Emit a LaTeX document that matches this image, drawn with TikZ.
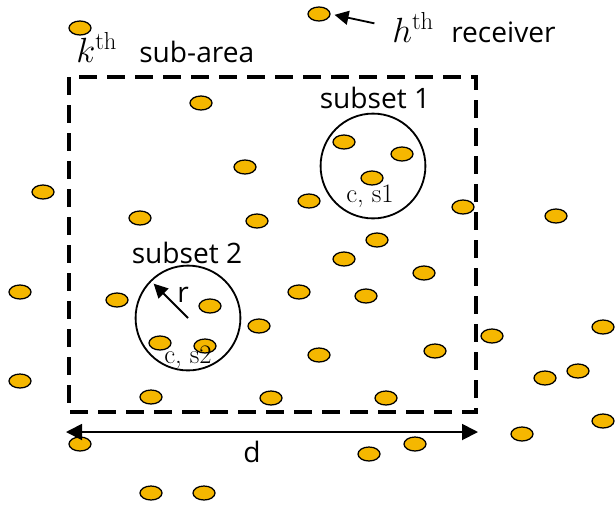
\documentclass[tikz,border=0pt]{standalone}
\usepackage{fontspec}
\setsansfont{Open Sans}
\usepackage{tikz}
\usetikzlibrary{arrows.meta, shapes.geometric}
\definecolor{dotfill}{RGB}{245,183,0}

\begin{document}
\begin{tikzpicture}[x=0.025cm, y=-0.025cm,
  rcv/.style={ellipse, draw, line width=0.9pt, fill=dotfill, minimum width=0.55cm, minimum height=0.35cm, inner sep=0pt},
  lbl/.style={font=\sffamily\fontsize{20}{24}\selectfont, inner sep=0pt},
  mth/.style={font=\fontsize{25}{29}\selectfont, inner sep=0pt},
  cs/.style={font=\fontsize{19}{22}\selectfont, inner sep=0pt},
  subset/.style={circle, draw, line width=1.3pt, minimum size=2.62cm, inner sep=0pt}]
\useasboundingbox (0,0) rectangle (616,508);
\draw[line width=2.8pt, dash pattern=on 0.45cm off 0.25cm] (69,77) rectangle (476,412);
\node[subset] (subsetA) at (373,166) {};
\node[subset] (subsetB) at (188,318) {};
\foreach \x/\y [count=\i] in {80/28, 201/103, 344/142, 402/154, 372/178, 245/167, 43/192,
  309/201, 140/218, 257/221, 463/207, 556/216, 377/240, 344/259, 424/273, 20/292,
  117/300, 299/292, 366/296, 210/306, 259/326, 160/343, 205/346, 492/336, 603/327,
  435/351, 319/355, 20/381, 545/378, 578/371, 151/397, 271/398, 386/398, 603/421,
  80/444, 522/434, 415/444, 369/454, 151/493, 204/493}
  \node[rcv] (r\i) at (\x,\y) {};
\node[rcv] (hrx) at (319,14) {};
\node[mth, anchor=base west] (kth) at (76,62) {$k^{\mathrm{th}}$};
\node[lbl, anchor=base west] (karea) at (139,62) {sub-area};
\node[mth, anchor=base west] (hth) at (392,42) {$h^{\mathrm{th}}$};
\node[lbl, anchor=base west] (hrcv) at (451,42) {receiver};
\draw[line width=1.3pt, -{Triangle[length=0.35cm, width=0.35cm]}, shorten <=0.45cm, shorten >=0.1cm] (hth.west) -- (hrx.east);
\node[lbl, anchor=base] (subA) at (375,108) {subset 1};
\node[lbl, anchor=base] (subB) at (187,263) {subset 2};
\node[cs, anchor=base] (csA) at (370,202) {c, s1};
\node[cs, anchor=base] (csB) at (188,363) {c, s2};
\draw[line width=1.3pt, -{Triangle[length=0.35cm, width=0.35cm]}, shorten >=0.12cm] (subsetB.center) -- (subsetB.135);
\node[lbl, anchor=base] (rlbl) at (183,302) {r};
\coordinate (dl) at (66,432);
\coordinate (dr) at (478,432);
\draw[line width=1.3pt, {Triangle[length=0.4cm, width=0.4cm]}-{Triangle[length=0.4cm, width=0.4cm]}] (dl) -- (dr);
\node[lbl, anchor=base] (dlbl) at (252,462) {d};
\end{tikzpicture}
\end{document}
